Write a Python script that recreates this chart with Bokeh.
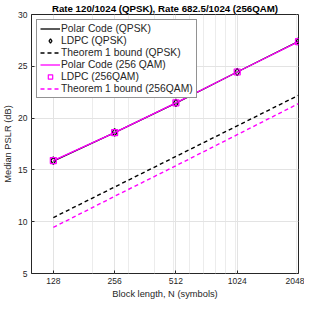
from bokeh.plotting import figure
from bokeh.models import FixedTicker, Legend, LegendItem, Range1d
from bokeh.embed import file_html
from bokeh.resources import INLINE

# Data
block_lengths = [128, 256, 512, 1024, 2048]
polar_qpsk = [15.85, 18.6, 21.45, 24.45, 27.4]
ldpc_qpsk = [15.9, 18.62, 21.47, 24.45, 27.4]
bound_qpsk = [10.4, 13.35, 16.3, 19.25, 22.2]
polar_qam = [15.9, 18.6, 21.47, 24.45, 27.38]
ldpc_qam = [15.9, 18.6, 21.47, 24.45, 27.38]
bound_qam = [9.45, 12.45, 15.4, 18.4, 21.4]
x_ticks = [128, 256, 512, 1024, 2048]
x_minor = [100, 200, 300, 400, 500, 600, 700, 800, 900, 1000, 2000]
y_ticks = [5, 10, 15, 20, 25, 30]

FONT = "Liberation Sans"
AX = "#262626"
MAG = "#ff00ff"

p = figure(width=304, height=301, x_axis_type="log", output_backend="svg",
           toolbar_location=None, x_range=Range1d(100, 2048), y_range=Range1d(5, 30),
           min_border_left=0, min_border_right=6, min_border_top=0, min_border_bottom=0,
           title="Rate 120/1024 (QPSK), Rate 682.5/1024 (256QAM)")
p.title.text_font = FONT
p.title.text_font_size = "9.7px"
p.title.text_font_style = "bold"
p.title.align = "center"
p.title.text_color = "#000000"
p.title.standoff = 1
p.title.offset = 0

p.outline_line_color = AX
p.outline_line_width = 1
p.outline_line_alpha = 1

r1 = p.line(block_lengths, polar_qpsk, line_color="black", line_width=1.3)
r2 = p.scatter(block_lengths, ldpc_qpsk, marker="diamond", size=7.5, line_color="black",
               fill_color="white", fill_alpha=0, line_width=1.3)
r3 = p.line(block_lengths, bound_qpsk, line_color="black", line_width=1.4, line_dash="4 3")
r4 = p.line(block_lengths, polar_qam, line_color=MAG, line_width=1.3)
r5 = p.scatter(block_lengths, ldpc_qam, marker="square", size=6, line_color=MAG,
               fill_alpha=0, line_width=1.2)
r6 = p.line(block_lengths, bound_qam, line_color=MAG, line_width=1.4, line_dash="4 3")

xt = FixedTicker(ticks=x_ticks, minor_ticks=x_minor)
yt = FixedTicker(ticks=y_ticks, minor_ticks=[])

for ax in p.xaxis:
    ax.ticker = xt
    ax.major_label_overrides = {v: str(v) for v in x_ticks}
    ax.axis_label = "Block length, N (symbols)"
for ax in p.yaxis:
    ax.ticker = yt
    ax.axis_label = "Median PSLR (dB)"

for ax in list(p.xaxis) + list(p.yaxis):
    ax.axis_line_color = None
    ax.major_tick_in = 3
    ax.major_tick_out = 0
    ax.minor_tick_in = 0
    ax.minor_tick_out = 0
    ax.major_tick_line_color = AX
    ax.major_label_text_font = FONT
    ax.major_label_text_font_size = "8.5px"
    ax.major_label_text_color = AX
    ax.axis_label_text_font = FONT
    ax.axis_label_text_font_size = "9.3px"
    ax.axis_label_text_font_style = "normal"
    ax.axis_label_text_color = AX
    ax.major_label_standoff = 4
    ax.axis_label_standoff = 2

p.xgrid.ticker = xt
p.xgrid.grid_line_color = "#e3e3e3"
p.xgrid.minor_grid_line_color = "#ececec"
p.ygrid.ticker = yt
p.ygrid.grid_line_color = "#e3e3e3"

legend = Legend(items=[
    LegendItem(label="Polar Code (QPSK)", renderers=[r1]),
    LegendItem(label="LDPC (QPSK)", renderers=[r2]),
    LegendItem(label="Theorem 1 bound (QPSK)", renderers=[r3]),
    LegendItem(label="Polar Code (256 QAM)", renderers=[r4]),
    LegendItem(label="LDPC (256QAM)", renderers=[r5]),
    LegendItem(label="Theorem 1 bound (256QAM)", renderers=[r6]),
], location="top_left")
legend.label_text_font = FONT
legend.label_text_font_size = "10.3px"
legend.label_text_color = AX
legend.label_height = 11
legend.glyph_height = 11
legend.glyph_width = 20
legend.label_standoff = 1
legend.spacing = 1
legend.padding = 3
legend.margin = 5
legend.border_line_color = AX
legend.border_line_width = 1
legend.background_fill_alpha = 1
p.add_layout(legend, "center")

open("out.html", "w").write(file_html(p, INLINE))
